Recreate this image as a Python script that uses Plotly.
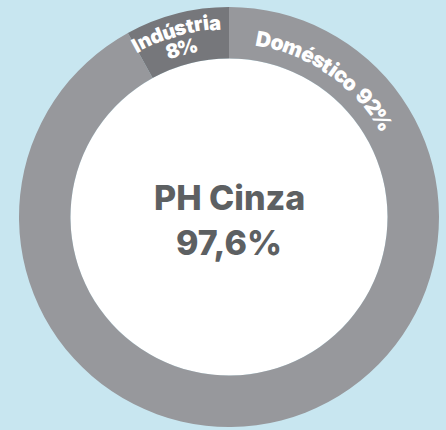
import math
import plotly.graph_objects as go

# ---- data ----
labels = ["Doméstico", "Indústria"]
values = [92, 8]
label_texts = [["Doméstico 92%"], ["Indústria", "8%"]]
center_title = "PH Cinza"
center_value = "97,6%"

colors = ["#97989c", "#76777b"]
W, H = 446, 430
CX, CY = 229, 213   # pixel centre (y from bottom)
R = 210
HOLE = 0.755
FS = 19.5
FONT = "Inter, Noto Sans, sans-serif"

fig = go.Figure(go.Pie(
    labels=labels, values=values, sort=False, direction="clockwise", rotation=0,
    hole=HOLE, marker=dict(colors=colors, line=dict(width=0)),
    textinfo="none", hoverinfo="label+percent", showlegend=False,
    domain=dict(x=[(CX - R) / W, (CX + R) / W], y=[(CY - R) / H, (CY + R) / H]),
))

cw = {"D": .76, "o": .64, "m": .95, "é": .62, "s": .56, "t": .42, "i": .30, "c": .60,
      " ": .28, "9": .64, "2": .62, "%": .88, "I": .32, "n": .65, "d": .66, "ú": .65,
      "r": .44, "a": .63, "8": .64}

annotations = []

def arc_text(text, theta_center=None, theta_start=None, r=180, fs=FS, spacing=1.02):
    widths = [cw.get(ch, .6) * fs * spacing for ch in text]
    total = sum(widths)
    span = total / r * 180 / math.pi
    if theta_start is None:
        theta_start = theta_center - span / 2
    cum = 0
    for ch, w in zip(text, widths):
        th = theta_start + (cum + w / 2) / r * 180 / math.pi
        cum += w
        if ch == " ":
            continue
        t = math.radians(th)
        annotations.append(dict(
            x=(CX + r * math.sin(t)) / W, y=(CY + r * math.cos(t)) / H,
            xref="paper", yref="paper", text=ch, showarrow=False,
            textangle=th, xanchor="center", yanchor="middle",
            font=dict(family=FONT, size=fs, color="white", weight=900),
        ))

total_v = sum(values)
start = 0
for i, v in enumerate(values):
    span_deg = v / total_v * 360
    if i == 0:
        arc_text(label_texts[i][0], theta_start=start + 8.5, r=181, fs=21, spacing=0.985)
    else:
        mid = start + span_deg / 2 - 1.5
        arc_text(label_texts[i][0], theta_center=mid, r=195, fs=20, spacing=1.0)
        arc_text(label_texts[i][1], theta_center=mid, r=175, fs=20, spacing=1.0)
    start += span_deg

annotations.append(dict(x=CX / W, y=(CY + 20) / H, xref="paper", yref="paper",
                        text=center_title, showarrow=False, xanchor="center", yanchor="middle",
                        font=dict(family=FONT, size=34, color="#5d6062", weight=800)))
annotations.append(dict(x=CX / W, y=(CY - 25) / H, xref="paper", yref="paper",
                        text=center_value, showarrow=False, xanchor="center", yanchor="middle",
                        font=dict(family=FONT, size=34, color="#5d6062", weight=800)))

fig.update_layout(
    width=W, height=H, margin=dict(l=0, r=0, t=0, b=0),
    paper_bgcolor="#c8e6f0", plot_bgcolor="#c8e6f0",
    annotations=annotations,
)
# white hole
fig.add_shape(type="circle", xref="paper", yref="paper",
              x0=(CX - R * HOLE) / W, x1=(CX + R * HOLE) / W,
              y0=(CY - R * HOLE) / H, y1=(CY + R * HOLE) / H,
              fillcolor="white", line=dict(width=0), layer="below")

fig.write_html("out.html", config={"displayModeBar": False},
               post_script="document.body.style.margin='0';document.body.style.overflow='hidden';")
